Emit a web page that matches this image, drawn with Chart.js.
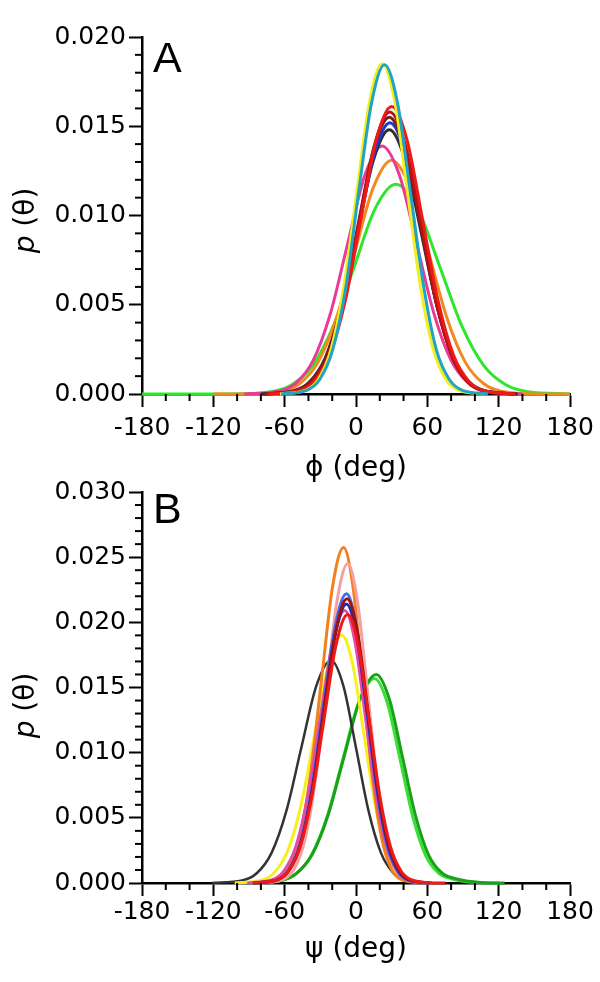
<!DOCTYPE html>
<html>
<head>
<meta charset="utf-8">
<script src="https://cdn.jsdelivr.net/npm/chart.js@4.4.1/dist/chart.umd.min.js"></script>
<style>
  html, body { margin: 0; padding: 0; background: #fff; }
  #wrap { position: relative; width: 600px; height: 982px; }
  canvas { position: absolute; left: 0; }
  #chartA { top: 0; }
  #chartB { top: 470px; }
</style>
</head>
<body>
<div id="wrap">
  <canvas id="chartA" width="600" height="491"></canvas>
  <canvas id="chartB" width="600" height="512"></canvas>
</div>
<script>
// ---- panel A : phi distributions, [deg, p] pairs ----
const phiCyan = [[-63,0.000006],[-41.5,0.000205],[-30.5,0.00081],[-19.5,0.002496],[-8.5,0.005991],[2,0.01119],[13,0.016282],[24,0.01845],[35,0.016282],[46,0.01119],[57,0.005991],[67.5,0.002496],[78.5,0.00081],[89.5,0.000205],[111,0.000006]];
const phiYellow = [[-64,0.000006],[-42.5,0.000205],[-31.75,0.000812],[-21,0.002503],[-10.25,0.006007],[0.5,0.01122],[11.25,0.016326],[22,0.0185],[32.75,0.016326],[43.5,0.01122],[54.25,0.006007],[65,0.002503],[75.75,0.000812],[86.5,0.000205],[108,0.000006]];
const phiRed = [[-74,0.000005],[-48,0.000179],[-35,0.000707],[-22,0.002178],[-9,0.005228],[4,0.009765],[17,0.014208],[30,0.0161],[43,0.014208],[56,0.009765],[69,0.005228],[82,0.002178],[95,0.000707],[108,0.000179],[134,0.000005]];
const phiDarkRed = [[-75.5,0.000005],[-49.5,0.000175],[-36.5,0.000694],[-23.5,0.002138],[-10.5,0.00513],[2.5,0.009583],[15.5,0.013944],[28.5,0.0158],[41.5,0.013944],[54.5,0.009583],[67.5,0.00513],[80.5,0.002138],[93.5,0.000694],[106.5,0.000175],[132.5,0.000005]];
const phiBrown = [[-78,0.000005],[-51.5,0.000172],[-38.25,0.00068],[-25,0.002097],[-11.75,0.005033],[1.5,0.009401],[14.75,0.013679],[28,0.0155],[41.25,0.013679],[54.5,0.009401],[67.75,0.005033],[81,0.002097],[94.25,0.00068],[107.5,0.000172],[134,0.000005]];
const phiBlue = [[-77.5,0.000005],[-51,0.000169],[-37.75,0.000667],[-24.5,0.002057],[-11.25,0.004935],[2,0.009219],[15.25,0.013414],[28.5,0.0152],[41.75,0.013414],[55,0.009219],[68.25,0.004935],[81.5,0.002057],[94.75,0.000667],[108,0.000169],[134.5,0.000005]];
const phiBlack = [[-80,0.000005],[-53,0.000164],[-39.5,0.00065],[-26,0.002002],[-12.5,0.004806],[1,0.008976],[14.5,0.013061],[28,0.0148],[41.5,0.013061],[55,0.008976],[68.5,0.004806],[82,0.002002],[95.5,0.00065],[109,0.000164],[136,0.000005]];
const phiMagenta = [[-94,0.000005],[-65,0.000154],[-50.5,0.00061],[-36,0.001881],[-21.5,0.004513],[-7,0.00843],[7.5,0.012267],[22,0.0139],[36.5,0.012267],[51,0.00843],[65.5,0.004513],[80,0.001881],[94.5,0.00061],[109,0.000154],[140,0.000005]];
const phiOrange = [[-120,0],[-94,0.000004],[-63,0.000145],[-47.5,0.000575],[-32,0.001772],[-16.5,0.004254],[-1,0.007945],[14.5,0.011561],[30,0.0131],[45.5,0.011561],[61,0.007945],[76.5,0.004254],[92,0.001772],[107.5,0.000575],[123,0.000145],[154,0.000004],[180,0]];
const phiGreen = [[-180,0],[-106.5,0.000004],[-71.5,0.00013],[-54,0.000516],[-36.5,0.00159],[-19,0.003815],[-1.5,0.007126],[16,0.010369],[33.5,0.01175],[52,0.010369],[70.5,0.007126],[89,0.003815],[107.5,0.00159],[126,0.000516],[144.5,0.00013],[180,0.000005]];

// first entry is drawn on top
const phiSeries = [phiCyan, phiYellow, phiRed, phiDarkRed, phiBrown, phiBlue, phiBlack, phiMagenta, phiOrange, phiGreen];
const phiColors = ['#22a3c6', '#f3ee1c', '#ee1a1a', '#b81212', '#7e1a1a', '#1a3ad6', '#2e2e2e', '#ea3a96', '#f3881e', '#2ee62e'];

// ---- panel B : psi distributions ----
const psiRed = [[-87,0.000007],[-67,0.000229],[-57,0.000904],[-47,0.002787],[-37,0.006689],[-27,0.012494],[-17,0.01818],[-7,0.0206],[2,0.01818],[11,0.012494],[20,0.006689],[29,0.002787],[38,0.000904],[47,0.000229],[65,0.000007],[75,0]];
const psiDarkRed = [[-85.5,0.000007],[-66,0.000242],[-56.25,0.000957],[-46.5,0.00295],[-36.75,0.007078],[-27,0.013222],[-17.25,0.019239],[-7.5,0.0218],[1.25,0.019239],[10,0.013222],[18.75,0.007078],[27.5,0.00295],[36.25,0.000957],[45,0.000242],[62.5,0.000007]];
const psiNavy = [[-86,0.000007],[-66.5,0.000238],[-56.75,0.00094],[-47,0.002895],[-37.25,0.006949],[-27.5,0.012979],[-17.75,0.018886],[-8,0.0214],[0.75,0.018886],[9.5,0.012979],[18.25,0.006949],[27,0.002895],[35.75,0.00094],[44.5,0.000238],[62,0.000007]];
const psiBlue = [[-86,0.000007],[-66.5,0.000246],[-56.75,0.000975],[-47,0.003004],[-37.25,0.007208],[-27.5,0.013464],[-17.75,0.019592],[-8,0.0222],[0.5,0.019592],[9,0.013464],[17.5,0.007208],[26,0.003004],[34.5,0.000975],[43,0.000246],[60,0.000007]];
const psiMagenta = [[-91.5,0.000007],[-71,0.000232],[-60.75,0.000918],[-50.5,0.002828],[-40.25,0.006786],[-30,0.012676],[-19.75,0.018444],[-9.5,0.0209],[-0.75,0.018444],[8,0.012676],[16.75,0.006786],[25.5,0.002828],[34.25,0.000918],[43,0.000232],[60.5,0.000007]];
const psiSalmon = [[-79,0.000008],[-61,0.000272],[-52,0.001076],[-43,0.003315],[-34,0.007955],[-25,0.014859],[-16,0.021621],[-7,0.0245],[1.25,0.021621],[9.5,0.014859],[17.75,0.007955],[26,0.003315],[34.25,0.001076],[42.5,0.000272],[59,0.000008]];
const psiOrange = [[-84.5,0.000009],[-66,0.000286],[-56.75,0.00113],[-47.5,0.003483],[-38.25,0.008358],[-29,0.015611],[-19.75,0.022716],[-10.5,0.02574],[-2.5,0.022716],[5.5,0.015611],[13.5,0.008358],[21.5,0.003483],[29.5,0.00113],[37.5,0.000286],[53.5,0.000009]];
const psiYellow = [[-102,0.000006],[-79.5,0.000211],[-68.25,0.000834],[-57,0.002571],[-45.75,0.006169],[-34.5,0.011524],[-23.25,0.016768],[-12,0.019],[-2.75,0.016768],[6.5,0.011524],[15.75,0.006169],[25,0.002571],[34.25,0.000834],[43.5,0.000211],[62,0.000006]];
const psiBlack = [[-121,0.000006],[-96,0.00019],[-83.5,0.000751],[-71,0.002314],[-58.5,0.005552],[-46,0.010371],[-33.5,0.015091],[-21,0.0171],[-10.5,0.015091],[0,0.010371],[10.5,0.005552],[21,0.002314],[31.5,0.000751],[42,0.00019],[63,0.000006]];
const psiGreenDark = [[-91,0.000005],[-64,0.000178],[-50.5,0.000702],[-37,0.002165],[-23.5,0.005195],[-10,0.009704],[3.5,0.01412],[17,0.016],[28,0.01412],[39,0.009704],[50,0.005195],[61,0.002165],[72,0.0008],[83,0.00035],[105,0.00004],[125,0]];
const psiGreen = [[-90.5,0.000005],[-64,0.000174],[-50.75,0.000689],[-37.5,0.002124],[-24.25,0.005098],[-11,0.009522],[2.25,0.013855],[15.5,0.0157],[26.25,0.013855],[37,0.009522],[47.75,0.005098],[58.5,0.002124],[69.25,0.00078],[80,0.00033],[101.5,0.00004],[120,0]];

const psiSeries = [psiRed, psiDarkRed, psiNavy, psiBlue, psiMagenta, psiSalmon, psiOrange, psiYellow, psiBlack, psiGreenDark, psiGreen];
const psiColors = ['#f01818', '#9c1212', '#1e2ea8', '#4a66ec', '#e64aa6', '#f5a0a0', '#f2801e', '#f5f01e', '#333333', '#1aa01a', '#36e036'];
const psiWidths = [3, 3, 3, 3, 3, 3, 3, 3, 2.5, 3, 3];

// axis ticks
const degMin = -180, degMax = 180, degStep = 20, degLabelEvery = 60;

const FONT = '"DejaVu Sans", "Liberation Sans", Arial, sans-serif';

// short minor ticks, the long labelled ones come from the grid options
const minorTicks = {
    id: 'minorTicks',
    afterDraw(chart) {
        const ctx = chart.ctx;
        const xs = chart.scales.x, ys = chart.scales.y;
        ctx.save();
        ctx.strokeStyle = '#000';
        ctx.lineWidth = 2;
        xs.ticks.forEach(t => {
            if (t.value % degLabelEvery === 0) return;
            const px = xs.getPixelForValue(t.value);
            ctx.beginPath(); ctx.moveTo(px, xs.top); ctx.lineTo(px, xs.top + 7); ctx.stroke();
        });
        ys.ticks.forEach(t => {
            if (Math.round(t.value * 1000) % 5 === 0) return;
            const py = ys.getPixelForValue(t.value);
            ctx.beginPath(); ctx.moveTo(ys.right, py); ctx.lineTo(ys.right - 7, py); ctx.stroke();
        });
        ctx.restore();
    }
};

// y title with italic p, plus the panel letter
const panelText = {
    id: 'panelText',
    afterDraw(chart, args, opts) {
        const ctx = chart.ctx;
        const ca = chart.chartArea;
        ctx.save();
        ctx.fillStyle = '#000';
        ctx.font = '43px "Liberation Sans", Arial, sans-serif';
        ctx.textBaseline = 'alphabetic';
        ctx.textAlign = 'left';
        ctx.fillText(opts.letter, opts.letterX, opts.letterY);

        ctx.translate(27, (ca.top + ca.bottom) / 2 + opts.titleShift);
        ctx.rotate(-Math.PI / 2);
        ctx.textBaseline = 'middle';
        const fItal = 'italic 28px ' + FONT, fReg = '28px ' + FONT;
        ctx.font = fItal; const w1 = ctx.measureText('p').width;
        ctx.font = fReg; const w2 = ctx.measureText(' (θ)').width;
        const x0 = -(w1 + w2) / 2;
        ctx.font = fItal; ctx.fillText('p', x0, 0);
        ctx.font = fReg; ctx.fillText(' (θ)', x0 + w1, 0);
        ctx.restore();
    }
};

function makePanel(canvasId, series, colors, widths, cfg) {
    const datasets = series.map((pts, i) => ({
        data: pts.map(p => ({ x: p[0], y: p[1] })),
        borderColor: colors[i],
        borderWidth: widths ? widths[i] : 3,
        pointRadius: 0,
        cubicInterpolationMode: 'monotone',
        fill: false,
        clip: false
    }));

    return new Chart(document.getElementById(canvasId), {
        type: 'line',
        data: { datasets },
        options: {
            responsive: false,
            animation: false,
            devicePixelRatio: 1,
            layout: { padding: { top: cfg.top, right: 30, left: 0, bottom: 0 } },
            plugins: {
                legend: { display: false },
                tooltip: { enabled: false },
                panelText: { letter: cfg.letter, letterX: 153, letterY: cfg.letterY, titleShift: cfg.titleShift }
            },
            scales: {
                x: {
                    type: 'linear',
                    min: degMin, max: degMax,
                    afterFit: s => { s.height = cfg.xAxisH; },
                    border: { color: '#000', width: 2.5 },
                    grid: {
                        drawOnChartArea: false, drawTicks: true, tickLength: 13, tickWidth: 2,
                        tickColor: c => (c.tick && c.tick.value % degLabelEvery === 0) ? '#000' : 'rgba(0,0,0,0)'
                    },
                    ticks: {
                        stepSize: degStep, autoSkip: false, maxRotation: 0, minRotation: 0,
                        padding: cfg.xTickPad, color: '#000',
                        font: { family: FONT, size: 25 },
                        callback: v => (v % degLabelEvery === 0) ? String(v) : ''
                    },
                    title: {
                        display: true, text: cfg.xTitle, color: '#000',
                        font: { family: FONT, size: 28 },
                        padding: { top: 0, bottom: cfg.xTitlePad }
                    }
                },
                y: {
                    min: 0, max: cfg.yMax,
                    afterFit: s => { s.width = 142; },
                    border: { color: '#000', width: 2.5 },
                    grid: {
                        drawOnChartArea: false, drawTicks: true, tickLength: 13, tickWidth: 2,
                        tickColor: c => (c.tick && Math.round(c.tick.value * 1000) % 5 === 0) ? '#000' : 'rgba(0,0,0,0)'
                    },
                    ticks: {
                        stepSize: 0.001, autoSkip: false, padding: 3, color: '#000',
                        font: { family: FONT, size: 25 },
                        callback: v => (Math.round(v * 1000) % 5 === 0) ? v.toFixed(3) : ''
                    }
                }
            }
        },
        plugins: [minorTicks, panelText]
    });
}

makePanel('chartA', phiSeries, phiColors, null, {
    top: 37, xAxisH: 491 - 394, yMax: 0.020, xTitle: 'ϕ (deg)',
    xTickPad: 6, xTitlePad: 5, letter: 'A', letterY: 72, titleShift: 5
});

makePanel('chartB', psiSeries, psiColors, psiWidths, {
    top: 22, xAxisH: 512 - 413, yMax: 0.030, xTitle: 'ψ (deg)',
    xTickPad: 1, xTitlePad: 15, letter: 'B', letterY: 53, titleShift: 18
});
</script>
</body>
</html>
